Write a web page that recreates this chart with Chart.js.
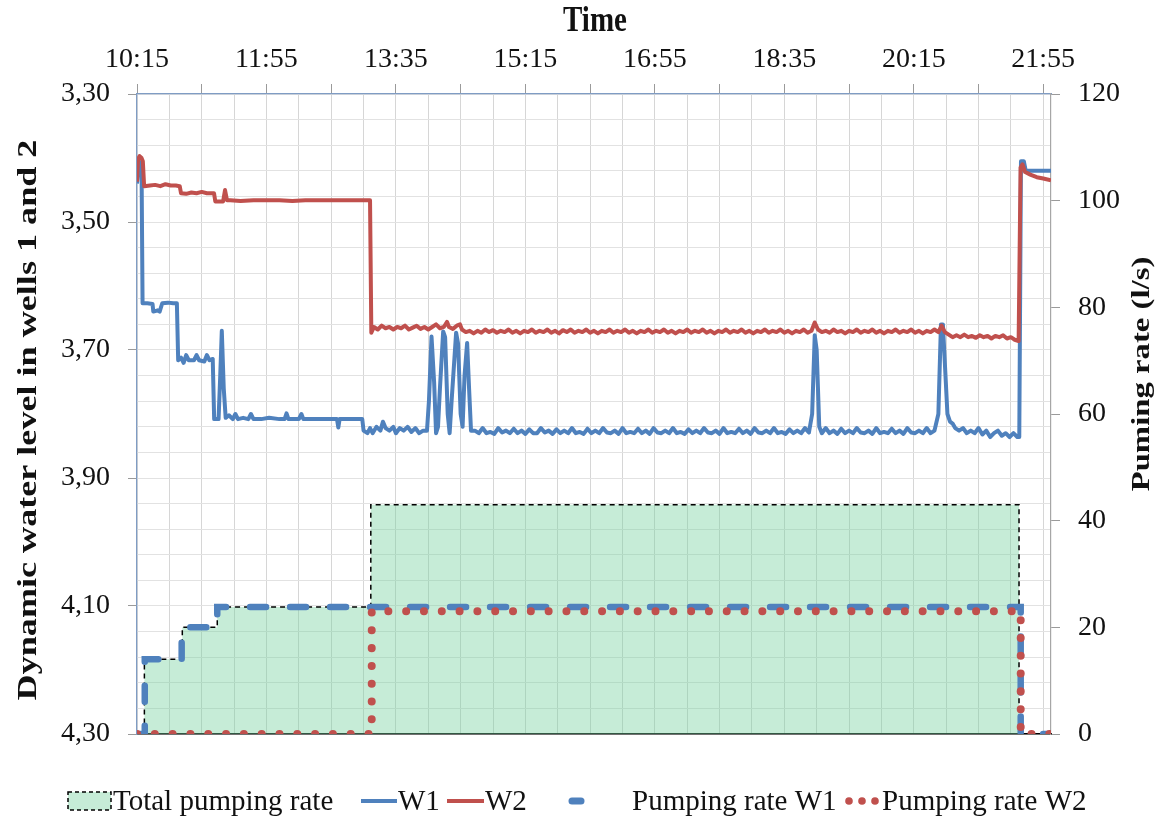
<!DOCTYPE html>
<html>
<head>
<meta charset="utf-8">
<script src="https://cdn.jsdelivr.net/npm/chart.js@4.4.1/dist/chart.umd.min.js"></script>
<style>
html,body{margin:0;padding:0;background:#fff;}
canvas{display:block;}
</style>
</head>
<body>
<canvas id="c" width="1156" height="819" style="width:1156px;height:819px"></canvas>
<script>
// ---------- DATA (minutes after 10:15) ----------
const timeLabels = ['10:15','11:55','13:35','15:15','16:55','18:35','20:15','21:55'];
const levelTickLabels = ['3,30','3,50','3,70','3,90','4,10','4,30'];
const rateTickLabels = ['0','20','40','60','80','100','120'];

const xTitle = 'Time';
const yTitle = 'Dynamic water level in wells 1 and 2';
const y1Title = 'Puming rate (l/s)';
const seriesNames = ['Total pumping rate','W1','W2','Pumping rate W1','Pumping rate W2'];

const w1Time = [0,1.5,3.5,4.3,8,12,12.6,16,17.5,19.5,24,28,30.8,31.8,34,36,38,40,44,46,48,52,54,56,58.5,
  59.6,63,64.3,65.5,67,68.5,71,74,76,78,82,86,88,90,96,102,110,114,115.5,117,122,125,127,128.5,134,
  140,148,154.5,155.5,156.5,170,174,175,178,180,182,185,188,190,192,195,198,200,203,206,209,212,215,218,221,
  224,225.5,227.5,229.5,231,232.5,234,236.5,238,240,241.5,243,246.5,248,250,251.5,253,255,256.5,258,
  261,264,267,270,273,276,279,282,285,288,291,294,297,300,303,306,309,312,315,318,321,324,327,330,333,336,339,342,
  345,348,351,354,357,360,363,366,369,372,375,378,381,384,387,390,393,396,399,402,405,408,411,414,417,420,423,426,
  429,432,435,438,441,444,447,450,453,456,459,462,465,468,471,474,477,480,483,486,489,492,495,498,501,504,507,510,
  513,516,519,
  521.5,523.5,525,527,529,
  532,535,538,541,544,547,550,553,556,559,562,565,568,571,574,577,580,583,586,589,592,595,598,601,604,607,610,613,616,
  619,621,622.5,624,626,628,630,632,
  635,638,641,644,647,650,653,656,659,662,665,668,671,674,677,680,
  681.5,682.8,685,686.5,695,706];
const w1Level = [3.440,3.405,3.410,3.627,3.627,3.628,3.640,3.638,3.640,3.627,3.626,3.627,3.627,3.716,3.712,3.720,3.708,3.716,3.716,3.708,3.716,3.718,3.708,3.716,3.714,
  3.808,3.808,3.740,3.670,3.760,3.806,3.802,3.808,3.800,3.808,3.806,3.808,3.800,3.808,3.808,3.806,3.808,3.808,3.799,3.808,3.808,3.808,3.800,3.808,3.808,
  3.808,3.808,3.808,3.821,3.808,3.808,3.808,3.826,3.830,3.822,3.830,3.820,3.826,3.812,3.822,3.826,3.820,3.830,3.822,3.826,3.820,3.828,3.822,3.830,3.826,
  3.826,3.780,3.679,3.750,3.830,3.820,3.760,3.671,3.680,3.800,3.830,3.780,3.673,3.690,3.800,3.820,3.740,3.689,3.760,3.826,
  3.826,3.830,3.822,3.830,3.828,3.831,3.822,3.829,3.826,3.830,
  3.823,3.830,3.826,3.831,3.824,3.830,3.830,3.822,3.829,3.826,
  3.831,3.824,3.830,3.826,3.830,3.822,3.830,3.828,3.831,3.823,
  3.830,3.826,3.830,3.822,3.829,3.830,3.826,3.831,3.822,3.830,
  3.828,3.830,3.823,3.830,3.826,3.831,3.822,3.829,3.830,3.826,
  3.830,3.822,3.830,3.828,3.831,3.824,3.830,3.826,3.830,3.822,
  3.829,3.830,3.826,3.831,3.822,3.830,3.828,3.830,3.823,3.830,
  3.826,3.831,3.822,3.829,3.830,3.826,3.830,3.822,3.830,3.828,
  3.831,3.824,3.830,3.826,3.830,3.822,3.829,
  3.800,3.677,3.700,3.820,3.830,
  3.822,3.830,3.826,3.831,3.823,3.830,3.826,3.830,3.822,3.829,3.830,3.826,3.831,3.822,3.830,3.828,3.830,3.823,3.830,3.826,3.831,3.822,3.829,3.830,3.826,3.830,3.822,3.830,3.826,
  3.800,3.660,3.660,3.720,3.800,3.812,3.815,3.822,
  3.826,3.822,3.830,3.826,3.830,3.822,3.832,3.826,3.836,3.830,3.826,3.834,3.830,3.836,3.830,3.836,
  3.836,3.405,3.405,3.420,3.420,3.420];

const w2Time = [0,0.8,2,3.5,4.5,5.5,10,14,18,22,26,30,33,34,38,42,46,50,54,58,59.5,60.5,65,66.5,68,
  69.5,72,80,90,100,110,120,130,140,150,160,170,180,181,183,186,189,192,195,198,201,204,207,210,213,
  216,219,222,225,228,231,234,237,239.5,241,244,247,249.5,251,254,257,260,263,266,269,272,
  275,278,281,284,287,290,293,296,299,302,305,308,311,314,317,320,323,326,329,332,335,338,341,344,347,350,
  353,356,359,362,365,368,371,374,377,380,383,386,389,392,395,398,401,404,407,410,413,416,419,422,425,428,
  431,434,437,440,443,446,449,452,455,458,461,464,467,470,473,476,479,482,485,488,491,494,497,500,503,506,
  509,512,515,518,521,
  523.5,526,
  529,532,535,538,541,544,547,550,553,556,559,562,565,568,571,574,577,580,583,586,589,592,595,598,601,604,607,610,613,616,619,
  621.5,624,
  627,630,633,636,639,642,645,648,651,654,657,660,663,666,669,672,675,678,
  681,682.5,684,686,690,695,700,706];
const w2Level = [3.437,3.402,3.397,3.400,3.405,3.444,3.443,3.442,3.444,3.441,3.443,3.443,3.444,3.455,3.456,3.454,3.455,3.453,3.455,3.455,3.455,3.468,3.468,3.468,3.450,
  3.466,3.466,3.467,3.466,3.466,3.466,3.467,3.466,3.466,3.466,3.466,3.466,3.466,3.673,3.664,3.668,3.662,3.666,3.664,3.668,3.664,3.666,3.662,3.668,3.665,
  3.662,3.667,3.664,3.668,3.664,3.660,3.666,3.664,3.656,3.664,3.667,3.662,3.660,3.668,3.672,3.670,3.674,3.670,3.673,3.668,3.672,
  3.669,3.673,3.670,3.672,3.668,3.673,3.670,3.674,3.670,3.672,
  3.668,3.673,3.670,3.672,3.668,3.673,3.670,3.674,3.669,3.672,
  3.668,3.673,3.670,3.672,3.668,3.673,3.670,3.674,3.670,3.672,
  3.668,3.673,3.670,3.672,3.668,3.673,3.670,3.674,3.670,3.672,
  3.668,3.673,3.670,3.672,3.668,3.673,3.670,3.674,3.670,3.672,
  3.668,3.673,3.670,3.672,3.668,3.673,3.670,3.674,3.670,3.672,
  3.668,3.673,3.670,3.672,3.668,3.673,3.670,3.674,3.670,3.672,
  3.668,3.673,3.670,3.672,3.668,3.673,3.670,3.674,3.670,3.672,
  3.668,3.673,3.670,
  3.657,3.668,
  3.672,3.670,3.673,3.668,3.672,3.670,3.674,3.670,3.672,3.668,3.673,3.670,3.672,3.668,3.673,3.670,3.674,3.670,3.672,3.668,3.673,3.670,3.672,3.668,3.673,3.670,3.674,3.670,3.672,3.668,3.672,
  3.662,3.672,
  3.676,3.680,3.677,3.680,3.676,3.680,3.678,3.681,3.677,3.680,3.678,3.682,3.678,3.680,3.677,3.682,3.680,3.684,
  3.686,3.415,3.410,3.422,3.426,3.430,3.432,3.435];

const totalTime = [0, 5.7, 35, 62, 180.6, 681.3, 706];
const totalRate = [0, 14, 20, 23.8, 43, 0, 0];
const rateW1Time = [0, 6, 34.5, 62, 682.6, 706];
const rateW1 = [0, 14, 20, 23.8, 0, 0];
const rateW2Time = [0, 181.3, 682.6, 706];
const rateW2 = [0, 23, 0, 0];

// ---------- STYLE ----------
const BLUE = '#4f81bd', RED = '#c0504d', GREEN = 'rgba(120,210,160,0.42)';
const TEXT = '#111';
const SERIF = "'Liberation Serif', 'Times New Roman', serif";
const pts = (xs, ys) => xs.slice(0, Math.min(xs.length, ys.length)).map((x, i) => ({x, y: ys[i]}));

const titlePlugin = {
  id: 'stretchedTitles',
  afterDraw(chart) {
    const c = chart.ctx;
    c.save();
    c.fillStyle = TEXT; c.textAlign = 'center'; c.textBaseline = 'middle';
    c.font = 'bold 29px ' + SERIF;
    c.save(); c.translate(595, 22); c.scale(1, 1.2); c.fillText(xTitle, 0, 0); c.restore();
    c.font = 'bold 28px ' + SERIF;
    c.save(); c.translate(29, 420); c.scale(1, 1.29); c.rotate(-Math.PI / 2); c.fillText(yTitle, 0, 0); c.restore();
    c.font = 'bold 26px ' + SERIF;
    c.save(); c.translate(1142, 374); c.scale(1, 1.26); c.rotate(-Math.PI / 2); c.fillText(y1Title, 0, 0); c.restore();
    c.restore();
  }
};

const legendPlugin = {
  id: 'refLegend',
  afterDraw(chart) {
    const c = chart.ctx, ds = chart.data.datasets, y = 801;
    c.save();
    // Total pumping rate box
    c.fillStyle = GREEN; c.fillRect(68, 792, 43, 18);
    c.setLineDash([4, 3]); c.lineWidth = 1.5; c.strokeStyle = '#000'; c.strokeRect(68, 792, 43, 18);
    c.setLineDash([]);
    // W1 / W2 lines
    c.lineWidth = 4; c.lineCap = 'butt';
    c.strokeStyle = BLUE; c.beginPath(); c.moveTo(361, y); c.lineTo(397, y); c.stroke();
    c.strokeStyle = RED; c.beginPath(); c.moveTo(447, y); c.lineTo(484, y); c.stroke();
    // Pumping rate W1 dash
    c.lineWidth = 7; c.lineCap = 'round'; c.strokeStyle = BLUE;
    c.beginPath(); c.moveTo(572, y); c.lineTo(581, y); c.stroke();
    // Pumping rate W2 dots
    c.fillStyle = RED;
    [849, 862, 875].forEach(x => { c.beginPath(); c.arc(x, y, 3.8, 0, Math.PI * 2); c.fill(); });
    // texts
    c.font = '29px ' + SERIF; c.fillStyle = TEXT; c.textBaseline = 'middle'; c.textAlign = 'left';
    const tx = [113, 398, 485, 632, 882];
    ds.forEach((d, i) => c.fillText(d.label, tx[i], y + 1));
    c.restore();
  }
};

const transparent = 'rgba(0,0,0,0)';

new Chart(document.getElementById('c'), {
  type: 'line',
  data: {
    datasets: [
      { label: seriesNames[0], data: pts(totalTime, totalRate), yAxisID: 'y1', stepped: true,
        borderColor: '#000', borderWidth: 1.5, borderDash: [5, 4], backgroundColor: GREEN,
        fill: 'origin', pointRadius: 0, order: 5 },
      { label: seriesNames[1], data: pts(w1Time, w1Level), yAxisID: 'y',
        borderColor: BLUE, borderWidth: 4, pointRadius: 0, tension: 0, order: 4, borderJoinStyle: 'round' },
      { label: seriesNames[2], data: pts(w2Time, w2Level), yAxisID: 'y',
        borderColor: RED, borderWidth: 4, pointRadius: 0, tension: 0, order: 3, borderJoinStyle: 'round' },
      { label: seriesNames[3], data: pts(rateW1Time, rateW1), yAxisID: 'y1', stepped: true,
        borderColor: BLUE, borderWidth: 6.5, borderDash: [16, 24], borderCapStyle: 'round',
        pointRadius: 0, order: 2, fill: false },
      { label: seriesNames[4], data: pts(rateW2Time, rateW2), yAxisID: 'y1', stepped: true,
        borderColor: RED, borderWidth: 8, borderDash: [0.01, 17.8], borderCapStyle: 'round',
        pointRadius: 0, order: 1, fill: false }
    ]
  },
  options: {
    responsive: false,
    animation: false,
    devicePixelRatio: 1,
    layout: { padding: { top: 0, left: 0, right: 0, bottom: 85 } },
    plugins: { legend: { display: false }, tooltip: { enabled: false }, title: { display: false } },
    scales: {
      x: {
        type: 'linear', position: 'top', min: 0, max: 706,
        afterFit: s => { s.height = 94; },
        afterBuildTicks: s => {
          const t = [];
          for (let m = 0; m <= 706; m += 25) t.push({ value: m });
          s.ticks = t;
        },
        ticks: {
          autoSkip: false, maxRotation: 0, minRotation: 0, padding: 8, color: TEXT,
          font: { family: SERIF, size: 28 },
          callback: v => (v % 100 === 0 ? (timeLabels[v / 100] || '') : '')
        },
        grid: {
          color: '#d6d6d6', lineWidth: 1, tickLength: 10,
          tickColor: ctx => (ctx.tick && ctx.tick.value % 50 === 0 ? '#9a9a9a' : transparent)
        },
        border: { color: '#7f9cc4', width: 1.2 },
        title: { display: false }
      },
      xb: {
        type: 'linear', position: 'bottom', min: 0, max: 706,
        afterFit: s => { s.height = 0; },
        ticks: { display: false },
        grid: { display: false, drawTicks: false },
        border: { display: true, color: '#000', width: 1.5, dash: [5, 4] }
      },
      y: {
        position: 'left', reverse: true, min: 3.3, max: 4.3,
        afterFit: s => { s.width = 137; },
        afterBuildTicks: s => {
          const t = [];
          for (let i = 0; i <= 25; i++) t.push({ value: 3.3 + i * 0.04 });
          s.ticks = t;
        },
        ticks: {
          autoSkip: false, padding: 18, color: TEXT,
          font: { family: SERIF, size: 28 },
          callback: (v, i) => (i % 5 === 0 ? (levelTickLabels[i / 5] || '') : '')
        },
        grid: {
          color: '#e2e2e2', lineWidth: 1, tickLength: 9,
          tickColor: ctx => (ctx.index % 5 === 0 ? '#9a9a9a' : transparent)
        },
        border: { color: '#7f9cc4', width: 1.2 },
        title: { display: false }
      },
      y1: {
        position: 'right', min: 0, max: 120,
        afterFit: s => { s.width = 105; },
        afterBuildTicks: s => {
          s.ticks = rateTickLabels.map(l => ({ value: Number(l) }));
        },
        ticks: {
          autoSkip: false, padding: 18, color: TEXT,
          font: { family: SERIF, size: 28 },
          callback: (v, i) => rateTickLabels[i]
        },
        grid: { drawOnChartArea: false, tickLength: 9, tickColor: '#9a9a9a' },
        border: { color: '#a6a6a6', width: 1.2 },
        title: { display: false }
      }
    }
  },
  plugins: [titlePlugin, legendPlugin]
});
</script>
</body>
</html>
